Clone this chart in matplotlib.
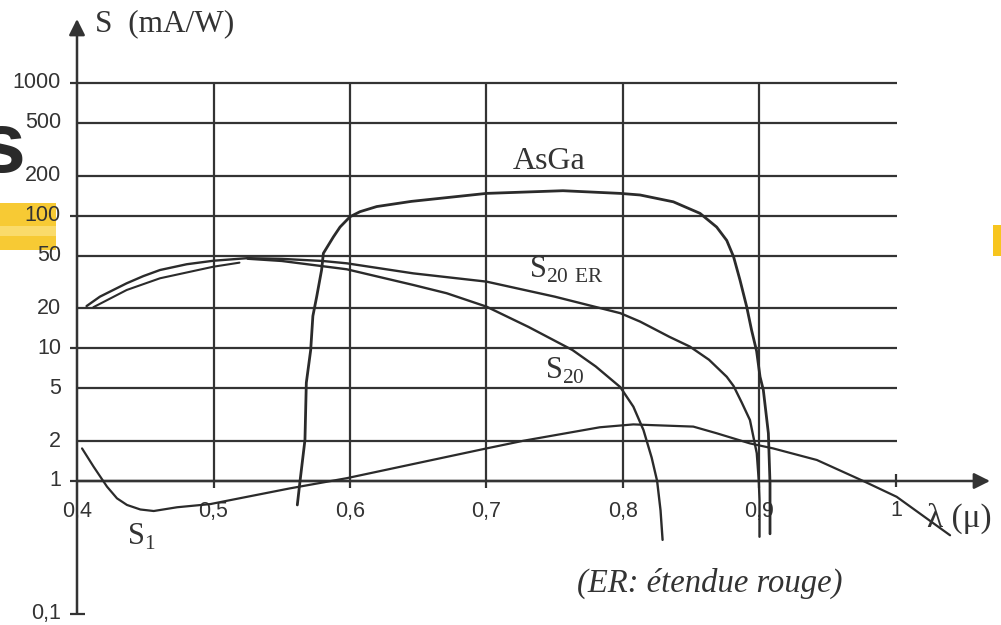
import numpy as np
import matplotlib
matplotlib.use("Agg")
import matplotlib.pyplot as plt
from matplotlib.patches import Rectangle

# ---------------- data ----------------
x_ticks = [0.4, 0.5, 0.6, 0.7, 0.8, 0.9, 1.0]
x_tick_labels = ["0,4", "0,5", "0,6", "0,7", "0,8", "0,9", "1"]
y_grid = [1, 2, 5, 10, 20, 50, 100, 200, 500, 1000]
y_labels = ["1", "2", "5", "10", "20", "50", "100", "200", "500", "1000"]
y_decade_ticks = [0.1, 1, 10, 100, 1000]

asga_x = [0.5614, 0.5634, 0.567, 0.568, 0.5712, 0.5728, 0.5756, 0.5792, 0.5805, 0.5878,
          0.5927, 0.60, 0.6073, 0.6196, 0.645, 0.70, 0.756, 0.798, 0.8125, 0.8369,
          0.8564, 0.8686, 0.876, 0.881, 0.8857, 0.8906, 0.8942, 0.8979, 0.9004, 0.9028,
          0.9065, 0.9077, 0.9077]
asga_y = [0.66, 1.0, 2.04, 5.5, 9.7, 17.5, 24.5, 39, 52, 69,
          82, 98, 107, 117, 128, 147, 154, 147, 143, 127,
          104, 82, 65, 49, 32.7, 20.6, 13.7, 9.5, 6.1, 4.85,
          2.29, 0.96, 0.40]

s20er_x = [0.407, 0.4168, 0.4364, 0.4486, 0.4608, 0.4804, 0.50, 0.525, 0.55, 0.58,
           0.5976, 0.6464, 0.70, 0.75, 0.798, 0.8125, 0.82, 0.834, 0.849, 0.863,
           0.876, 0.881, 0.887, 0.893, 0.898, 0.8995, 0.90, 0.90]
s20er_y = [20.8, 24.5, 30.9, 35.0, 38.9, 43.0, 45.7, 47.8, 47.2, 45.5,
           43.7, 36.7, 31.8, 24.5, 18.4, 15.9, 14.5, 12.2, 10.3, 8.2,
           6.1, 5.2, 3.9, 2.88, 1.62, 1.0, 0.72, 0.38]

s20_start_x = [0.412, 0.4364, 0.4608, 0.4999, 0.519]
s20_start_y = [20.4, 27.5, 33.7, 41.2, 44.2]

s20_x = [0.525, 0.55, 0.5976, 0.6464, 0.6708, 0.70, 0.7307, 0.763, 0.78, 0.798,
         0.8076, 0.815, 0.821, 0.825, 0.8275, 0.829]
s20_y = [47.3, 45.5, 39.4, 30.0, 26.0, 20.6, 14.5, 9.7, 7.3, 5.1,
         3.63, 2.42, 1.5, 1.0, 0.6, 0.36]

s1_x = [0.4037, 0.4122, 0.422, 0.4293, 0.4366, 0.4464, 0.4562, 0.4733, 0.4977, 0.51,
        0.556, 0.5976, 0.6489, 0.70, 0.727, 0.783, 0.8076, 0.82, 0.8515, 0.8686,
        0.893, 0.91, 0.942, 0.976, 1.0005, 1.0396]
s1_y = [1.76, 1.28, 0.906, 0.74, 0.66, 0.61, 0.594, 0.634, 0.67, 0.71,
        0.88, 1.05, 1.36, 1.76, 2.01, 2.54, 2.67, 2.64, 2.57, 2.29,
        1.92, 1.76, 1.44, 1.0, 0.76, 0.39]

# ---------------- figure ----------------
W, H = 1001, 625
fig = plt.figure(figsize=(W / 100, H / 100), dpi=100)
ax = fig.add_axes([0, 0, 1, 1])
ax.set_yscale("log")
# pixel mapping: x px = 77 + (x-0.4)*1365 ; y px = 481 - log10(v)*132.7
ax.set_xlim(0.4 - 77 / 1365, 0.4 + (W - 77) / 1365)
ax.set_ylim(10 ** (-(H - 481) / 132.7), 10 ** (481 / 132.7))
ax.axis("off")

C = "#333333"
def P(px, py):
    return (px / W, 1 - py / H)

# slide artifacts (yellow highlight strokes and a cut-off title letter)
ax.add_patch(Rectangle(P(0, 250), 56 / W, 47 / H, transform=ax.transAxes,
                       color="#F7C51E", alpha=0.9, lw=0, zorder=0))
ax.add_patch(Rectangle(P(0, 236), 56 / W, 10 / H, transform=ax.transAxes,
                       color="#FBE07A", alpha=0.8, lw=0, zorder=0))
ax.add_patch(Rectangle(P(993, 256), 8 / W, 31 / H, transform=ax.transAxes,
                       color="#F7C51E", lw=0, zorder=0))
ax.text(*P(-22, 150), "s", transform=ax.transAxes, fontsize=62, fontweight="bold",
        family="Liberation Sans", color="#2a2a2a", ha="left", va="center", zorder=0)

# grid
x_right = 0.4 + 820 / 1365
ax.hlines(y_grid, 0.4, x_right, color=C, lw=1.6, zorder=1)
ax.vlines(x_ticks[1:-1], 0.89, 1000, color=C, lw=1.6, zorder=1)
# decade ticks on y axis
ax.hlines(y_decade_ticks, 0.4 - 7 / 1365, 0.4, color=C, lw=1.6)
ax.hlines([0.1], 0.4, 0.4 + 8 / 1365, color=C, lw=1.6)
# tick at 1 on x axis
ax.vlines([1.0], 0.9, 1.12, color=C, lw=1.6)

# axes with arrows
ax.annotate("", xy=(0.4, 10 ** ((481 - 19) / 132.7)), xytext=(0.4, 0.1),
            arrowprops=dict(arrowstyle="-|>", mutation_scale=24, lw=1.8, color=C,
                            shrinkA=0, shrinkB=0))
ax.annotate("", xy=(0.4 + 913 / 1365, 1), xytext=(0.4, 1),
            arrowprops=dict(arrowstyle="-|>", mutation_scale=24, lw=1.8, color=C,
                            shrinkA=0, shrinkB=0))

# tick labels
for v, lab in zip(y_grid + [0.1], y_labels + ["0,1"]):
    ax.text(0.4 - 16 / 1365, v, lab, ha="right", va="center", fontsize=15.5,
            family="Liberation Sans", color=C)
for xv, lab in zip(x_ticks, x_tick_labels):
    ax.text(xv, 10 ** (-(511 - 481) / 132.7), lab, ha="center", va="center",
            fontsize=15.5, family="Liberation Sans", color=C)

# curves
kw = dict(color="#2b2b2b", solid_capstyle="round", solid_joinstyle="round", zorder=3)
ax.plot(asga_x, asga_y, lw=2.0, **kw)
ax.plot(s20er_x, s20er_y, lw=1.7, **kw)
ax.plot(s20_start_x, s20_start_y, lw=1.5, **kw)
ax.plot(s20_x, s20_y, lw=1.7, **kw)
ax.plot(s1_x, s1_y, lw=1.6, **kw)

# labels
serif = "Liberation Serif"
ax.text(*P(95, 24), "S  (mA/W)", transform=ax.transAxes, fontsize=22.5, family=serif,
        color=C, ha="left", va="center")
ax.text(*P(513, 161), "AsGa", transform=ax.transAxes, fontsize=23, family=serif,
        color=C, ha="left", va="center")
ax.text(*P(529, 270), r"S$_{\mathregular{20\ ER}}$", transform=ax.transAxes, fontsize=22,
        family=serif, color=C, ha="left", va="center")
ax.text(*P(545, 371), r"S$_{\mathregular{20}}$", transform=ax.transAxes, fontsize=22,
        family=serif, color=C, ha="left", va="center")
ax.text(*P(127, 537), r"S$_{\mathregular{1}}$", transform=ax.transAxes, fontsize=22,
        family=serif, color=C, ha="left", va="center")
ax.text(*P(927, 518), "λ (μ)", transform=ax.transAxes, fontsize=24, family=serif,
        color=C, ha="left", va="center")
ax.text(*P(710, 583), "(ER: étendue rouge)", transform=ax.transAxes, fontsize=23.5,
        family=serif, style="italic", color=C, ha="center", va="center")

fig.savefig("out.png", dpi=100)
